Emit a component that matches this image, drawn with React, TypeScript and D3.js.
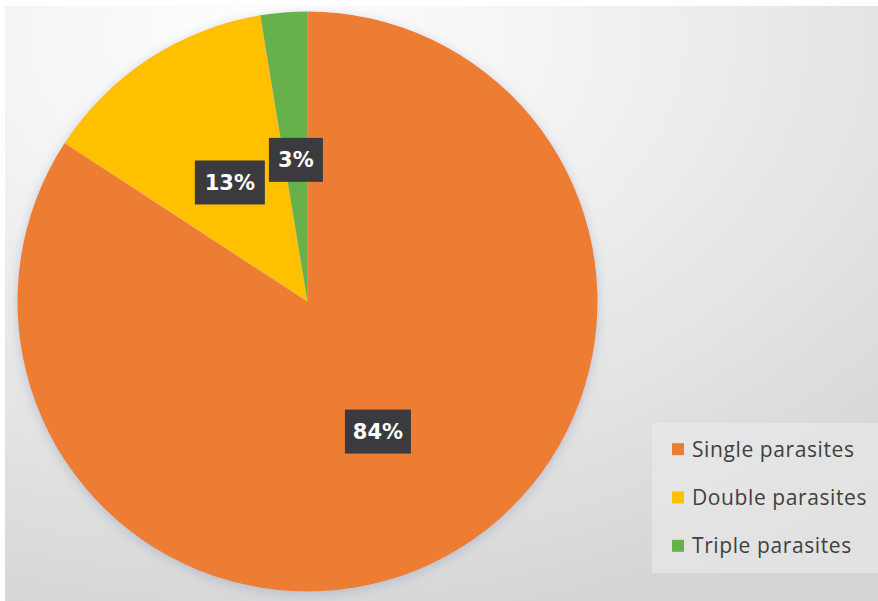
import React from "react";
import * as d3 from "d3";

const categories = ["Single parasites", "Double parasites", "Triple parasites"];
const values = [84.2, 13.2, 2.6];
const labels = ["84%", "13%", "3%"];
const colors = ["#ED7D31", "#FFC000", "#66B14A"];

const W = 878;
const H = 601;
const cx = 307.5;
const cy = 301.5;
const R = 290;

export default function App() {
  const pie = d3.pie<number>().sort(null).value((d) => d)(values);
  const arc = d3.arc<d3.PieArcDatum<number>>().innerRadius(0).outerRadius(R);
  const labelRadius = [0.51, 0.49, 0.49];
  const boxW = [66, 70, 54];
  const legendY = d3.scaleBand<string>().domain(categories).range([425, 570]).paddingInner(0);

  return (
    <svg width={W} height={H} style={{ position: "absolute", left: 0, top: 0 }} xmlns="http://www.w3.org/2000/svg">
      <defs>
        <radialGradient id="bg" cx="0.3" cy="0.05" r="1.05">
          <stop offset="0" stopColor="#ffffff" />
          <stop offset="0.45" stopColor="#eeeeee" />
          <stop offset="1" stopColor="#d4d4d4" />
        </radialGradient>
        <filter id="shadow" x="-10%" y="-10%" width="120%" height="120%">
          <feGaussianBlur in="SourceAlpha" stdDeviation="6" />
          <feOffset dx="0" dy="3" result="b" />
          <feFlood floodColor="#9aa6c0" floodOpacity="0.55" />
          <feComposite in2="b" operator="in" />
          <feMerge>
            <feMergeNode />
            <feMergeNode in="SourceGraphic" />
          </feMerge>
        </filter>
      </defs>
      <rect x={0} y={0} width={W} height={H} fill="#ffffff" />
      <rect x={5} y={6} width={W - 5} height={H - 6} fill="url(#bg)" />
      <g transform={`translate(${cx},${cy})`} filter="url(#shadow)">
        {pie.map((p, i) => (
          <path key={i} d={arc(p) || ""} fill={colors[i]} />
        ))}
      </g>
      <g transform={`translate(${cx},${cy})`}>
        {pie.map((p, i) => {
          const a = (p.startAngle + p.endAngle) / 2;
          const r = R * labelRadius[i];
          const x = Math.sin(a) * r;
          const y = -Math.cos(a) * r;
          return (
            <g key={i} transform={`translate(${x},${y})`}>
              <rect x={-boxW[i] / 2} y={-22} width={boxW[i]} height={44} fill="#3b3b3f" />
              <text
                textAnchor="middle"
                dy="0.36em"
                fill="#ffffff"
                fontFamily="'DejaVu Sans', sans-serif"
                fontWeight="bold"
                fontSize={21}
              >
                {labels[i]}
              </text>
            </g>
          );
        })}
      </g>
      <rect x={652} y={423} width={226} height={150} fill="#ebebeb" opacity={0.6} />
      {categories.map((c, i) => {
        const y = (legendY(c) || 0) + legendY.bandwidth() / 2;
        return (
          <g key={c}>
            <rect x={672} y={y - 6} width={12} height={12} fill={colors[i]} />
            <text
              x={692}
              y={y}
              dy="0.35em"
              fill="#3f3f3f"
              fontFamily="'Open Sans', sans-serif"
              fontSize={21}
              letterSpacing={0.6}
            >
              {c}
            </text>
          </g>
        );
      })}
    </svg>
  );
}
